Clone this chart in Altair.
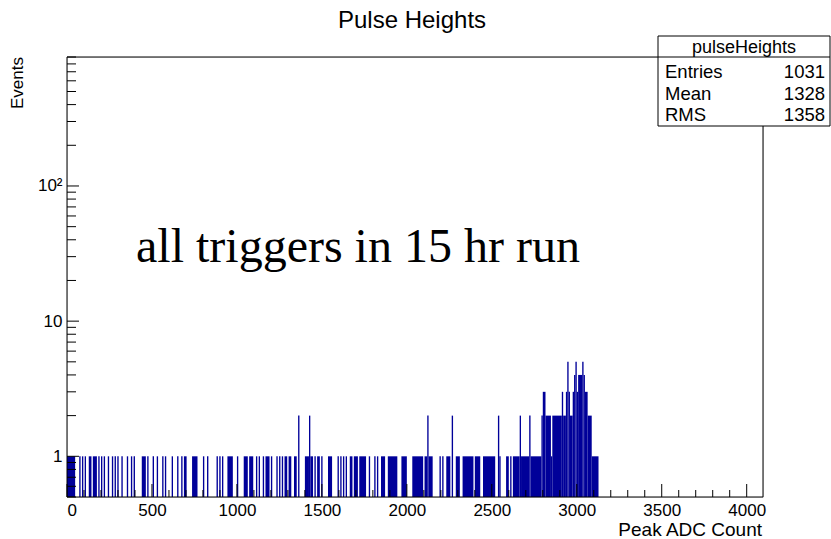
import altair as alt
import pandas as pd

# Histogram contents: runs of adjacent 8-count-wide bins sharing the same content
bin_lo = [0, 72, 88, 104, 128, 152, 184, 200, 216, 240, 264, 280, 296, 320, 352, 376, 392,
          440, 472, 504, 528, 560, 576, 616, 648, 672, 688, 736, 800, 824, 880, 896, 912, 944,
          1000, 1040, 1072, 1112, 1128, 1152, 1168, 1200, 1232, 1248, 1264, 1280, 1304, 1336,
          1360, 1400, 1424, 1432, 1456, 1472, 1496, 1536, 1592, 1608, 1624, 1640, 1664, 1688,
          1720, 1776, 1808, 1824, 1848, 1888, 1968, 2032, 2104, 2120, 2128, 2192, 2208, 2232,
          2264, 2288, 2328, 2400, 2448, 2536, 2544, 2584, 2608, 2624, 2664, 2672, 2720, 2728,
          2792, 2800, 2816, 2848, 2856, 2912, 2920, 2936, 2944, 2952, 2960, 2976, 2984, 2992,
          3000, 3008, 3032, 3040, 3048, 3064, 3088]
bin_hi = [48, 80, 96, 112, 144, 176, 192, 208, 224, 248, 272, 288, 304, 328, 360, 384, 400,
          464, 480, 512, 536, 568, 584, 624, 656, 680, 704, 768, 808, 832, 888, 904, 920, 976,
          1008, 1064, 1096, 1120, 1136, 1160, 1192, 1208, 1240, 1256, 1272, 1296, 1320, 1352,
          1368, 1424, 1432, 1448, 1464, 1488, 1504, 1560, 1600, 1616, 1632, 1648, 1680, 1712,
          1760, 1784, 1816, 1832, 1872, 1944, 2000, 2096, 2120, 2128, 2152, 2200, 2216, 2256,
          2272, 2312, 2392, 2432, 2520, 2544, 2552, 2600, 2616, 2664, 2672, 2720, 2728, 2792,
          2800, 2816, 2848, 2856, 2912, 2920, 2936, 2944, 2952, 2960, 2976, 2984, 2992, 3000,
          3008, 3032, 3040, 3048, 3064, 3088, 3128]
events = [1, 1, 1, 1, 1, 1, 1, 1, 1, 1, 1, 1, 1, 1, 1, 1, 1,
          1, 1, 1, 1, 1, 1, 1, 1, 1, 1, 1, 1, 1, 1, 1, 1, 1,
          1, 1, 1, 1, 1, 1, 1, 1, 1, 1, 1, 1, 1, 1,
          2, 1, 2, 1, 1, 1, 1, 1, 1, 1, 1, 1, 1, 1,
          1, 1, 1, 1, 1, 1, 1, 1, 1, 2, 1, 1, 1, 1,
          2, 1, 1, 1, 1, 2, 1, 1, 1, 1, 2, 1, 2, 1,
          2, 3, 2, 1, 2, 3, 2, 3, 5, 3, 2, 3, 4, 5,
          3, 4, 5, 4, 3, 2, 1]

stat_names = ["Entries", "Mean", "RMS"]
stat_values = ["1031", "1328", "1358"]

x_major = [0, 500, 1000, 1500, 2000, 2500, 3000, 3500, 4000]
y_major = [1, 10, 100]

W, H = 696, 440
FONT = "Liberation Sans"
BLUE = "#000099"

x_scale = alt.Scale(domain=[0, 4096], nice=False, zero=False)
y_scale = alt.Scale(type="log", domain=[0.5, 900], nice=False)

hist = pd.DataFrame({"lo": bin_lo, "hi": bin_hi, "n": events})

bars = alt.Chart(hist).mark_rect(color=BLUE).encode(
    x=alt.X("lo:Q", scale=x_scale,
            axis=alt.Axis(values=x_major, ticks=False, domain=False, grid=False,
                          labelFont=FONT, labelFontSize=17, labelColor="black",
                          labelPadding=5, title=None, format="d")),
    x2="hi:Q",
    y=alt.Y("n:Q", scale=y_scale,
            axis=alt.Axis(values=y_major, ticks=False, domain=False, grid=False,
                          labelFont=FONT, labelFontSize=17, labelColor="black",
                          labelPadding=5, title=None,
                          labelExpr="datum.value >= 100 ? '10\u00b2' : format(datum.value, 'd')")),
    y2=alt.value(H),
)

# inward tick marks along the bottom and left edges
x_minor = [v for v in range(100, 4100, 100) if v % 500 != 0]
y_minor = [m * d for d in (0.1, 1, 10, 100) for m in range(2, 10) if 0.5 <= m * d <= 900]


def xticks(vals, length):
    return alt.Chart(pd.DataFrame({"v": vals})).mark_rule(color="black", strokeWidth=1).encode(
        x=alt.X("v:Q", scale=x_scale), y=alt.value(H), y2=alt.value(H - length))


def yticks(vals, length):
    return alt.Chart(pd.DataFrame({"v": vals})).mark_rule(color="black", strokeWidth=1).encode(
        y=alt.Y("v:Q", scale=y_scale), x=alt.value(0), x2=alt.value(length))


frame = alt.Chart(pd.DataFrame({"a": [0]})).mark_rect(
    fill=None, filled=False, stroke="black", strokeWidth=1).encode(
    x=alt.value(0), x2=alt.value(W), y=alt.value(0), y2=alt.value(H))

# statistics box in the top-right corner
box_l, box_r, box_t, box_b = 591, 763, -21, 69
stats_box = alt.Chart(pd.DataFrame({"a": [0]})).mark_rect(
    fill="white", stroke="black", strokeWidth=1).encode(
    x=alt.value(box_l), x2=alt.value(box_r), y=alt.value(box_t), y2=alt.value(box_b))
stats_sep = alt.Chart(pd.DataFrame({"a": [0]})).mark_rule(color="black", strokeWidth=1).encode(
    x=alt.value(box_l), x2=alt.value(box_r), y=alt.value(0))


def text(t, x, y, size, align="left", font=FONT, angle=0):
    return alt.Chart(pd.DataFrame({"t": [t]})).mark_text(
        font=font, fontSize=size, align=align, baseline="alphabetic",
        color="black", angle=angle).encode(x=alt.value(x), y=alt.value(y), text="t:N")


stat_rows = []
for i, (name, val) in enumerate(zip(stat_names, stat_values)):
    yb = 21 + 21.5 * i
    stat_rows.append(text(name, 598, yb, 18.5))
    stat_rows.append(text(val, 758, yb, 18.5, align="right"))

chart = alt.layer(
    bars,
    xticks(x_minor, 7), xticks(x_major, 13),
    yticks(y_minor, 9), yticks(y_major, 12),
    frame,
    stats_box, stats_sep,
    text("pulseHeights", 677, -4, 18, align="center"),
    *stat_rows,
    text("Pulse Heights", 345, -29, 24, align="center"),
    text("Peak ADC Count", 695, 479, 19, align="right"),
    text("Events", -44, 0, 17, align="right", angle=270),
    text("all triggers in 15 hr run", 69, 205, 48, font="Liberation Serif"),
).properties(
    width=W, height=H,
    autosize=alt.AutoSizeParams(type="none"),
    padding={"left": 67, "top": 57, "right": 68, "bottom": 42},
).configure_view(stroke=None).configure(background="white")

chart.save("out.html", embed_options={"renderer": "svg", "actions": False})
